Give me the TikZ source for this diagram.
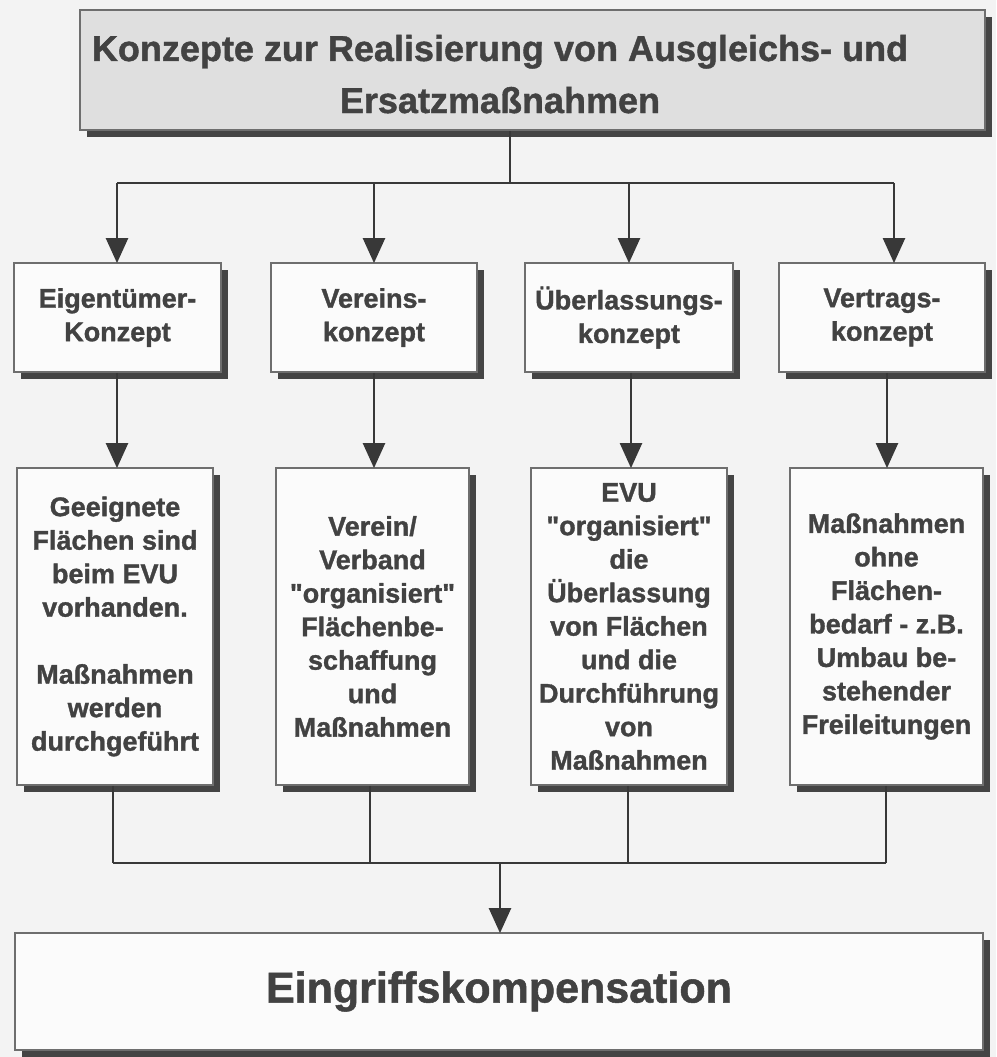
\documentclass[tikz,border=0pt]{standalone}
\usepackage{fontspec}
\setmainfont{Liberation Sans}[Ligatures=TeXOff, BoldFeatures={FakeBold=1.2}]
\usetikzlibrary{arrows.meta,shadows}
\definecolor{bgc}{HTML}{F3F3F3}
\definecolor{topfill}{HTML}{DFDFDF}
\definecolor{boxfill}{HTML}{FBFBFB}
\definecolor{edgec}{HTML}{6E6E6E}
\definecolor{shadc}{HTML}{444444}
\definecolor{linec}{HTML}{383838}
\definecolor{txtc}{HTML}{424242}
\tikzset{
  boxstyle/.style={draw=edgec, line width=1.8pt, fill=boxfill, rectangle, inner sep=0pt,
    general shadow={fill=shadc, shadow xshift=7pt, shadow yshift=-7pt},
    text=txtc, align=center, font=\bfseries\fontsize{27}{33.5}\selectfont},
  conn/.style={draw=linec, line width=2.4pt},
  arr/.style={conn, -{Triangle[width=22pt,length=25pt]}, shorten >=-1pt},
}
\begin{document}
\begin{tikzpicture}[x=1pt,y=-1pt]
\fill[bgc] (0,0) rectangle (996,1057);
\useasboundingbox (0,0) rectangle (996,1057);

% top box
\node[boxstyle, fill=topfill, minimum width=905pt, minimum height=120pt] (top) at (532.5,70) {};
\node[text=txtc, align=center, font=\bfseries\fontsize{36}{52}\selectfont, anchor=base] (title) at (500,113)
  {Konzepte zur Realisierung von Ausgleichs- und\\Ersatzmaßnahmen};

% row 1
\node[boxstyle, minimum width=207pt, minimum height=109pt] (c1) at (117.5,317.5) {Eigentümer-\\Konzept};
\node[boxstyle, minimum width=206pt, minimum height=109pt] (c2) at (374,317.5) {Vereins-\\konzept};
\node[boxstyle, minimum width=208pt, minimum height=109pt] (c3) at (629,317.5) {Überlassungs-\\konzept};
\node[boxstyle, minimum width=206pt, minimum height=109pt] (c4) at (882,317.5) {Vertrags-\\konzept};

% row 2
\node[boxstyle, minimum width=196pt, minimum height=317pt] (d1) at (115,626.5)
  {Geeignete\\Flächen sind\\beim EVU\\vorhanden.\\[33.5pt]Maßnahmen\\werden\\durchgeführt};
\node[boxstyle, minimum width=193pt, minimum height=317pt] (d2) at (372.5,626.5)
  {Verein/\\Verband\\"organisiert"\\Flächenbe-\\schaffung\\und\\Maßnahmen};
\node[boxstyle, minimum width=196pt, minimum height=317pt] (d3) at (629,626.5)
  {EVU\\"organisiert"\\die\\Überlassung\\von Flächen\\und die\\Durchführung\\von\\Maßnahmen};
\node[boxstyle, minimum width=193pt, minimum height=317pt] (d4) at (886.5,626.5)
  {Maßnahmen\\ohne\\Flächen-\\bedarf - z.B.\\Umbau be-\\stehender\\Freileitungen};

% bottom box
\node[boxstyle, minimum width=968pt, minimum height=117pt, font=\bfseries\fontsize{43}{50}\selectfont] (bot) at (499,991.5)
  {Eingriffskompensation};

% connectors top
\coordinate (j0) at (510,183);
\coordinate (h1) at (117,183);
\coordinate (h2) at (374,183);
\coordinate (h3) at (629,183);
\coordinate (h4) at (894,183);
\draw[conn] (j0 |- top.south) -- (j0);
\draw[conn] (h1) -- (h4);
\draw[arr] (h1) -- (h1 |- c1.north);
\draw[arr] (h2) -- (h2 |- c2.north);
\draw[arr] (h3) -- (h3 |- c3.north);
\draw[arr] (h4) -- (h4 |- c4.north);

% row1 -> row2
\coordinate (m1) at (117,400);
\coordinate (m2) at (374,400);
\coordinate (m3) at (631,400);
\coordinate (m4) at (887,400);
\draw[arr] (m1 |- c1.south) -- (m1 |- d1.north);
\draw[arr] (m2 |- c2.south) -- (m2 |- d2.north);
\draw[arr] (m3 |- c3.south) -- (m3 |- d3.north);
\draw[arr] (m4 |- c4.south) -- (m4 |- d4.north);

% row2 -> bottom
\coordinate (b1) at (113,863);
\coordinate (b2) at (370,863);
\coordinate (b3) at (628,863);
\coordinate (b4) at (886,863);
\coordinate (bj) at (500,863);
\draw[conn] (b1 |- d1.south) -- (b1);
\draw[conn] (b2 |- d2.south) -- (b2);
\draw[conn] (b3 |- d3.south) -- (b3);
\draw[conn] (b4 |- d4.south) -- (b4);
\draw[conn] (b1) -- (b4);
\draw[arr] (bj) -- (bj |- bot.north);
\end{tikzpicture}
\end{document}
